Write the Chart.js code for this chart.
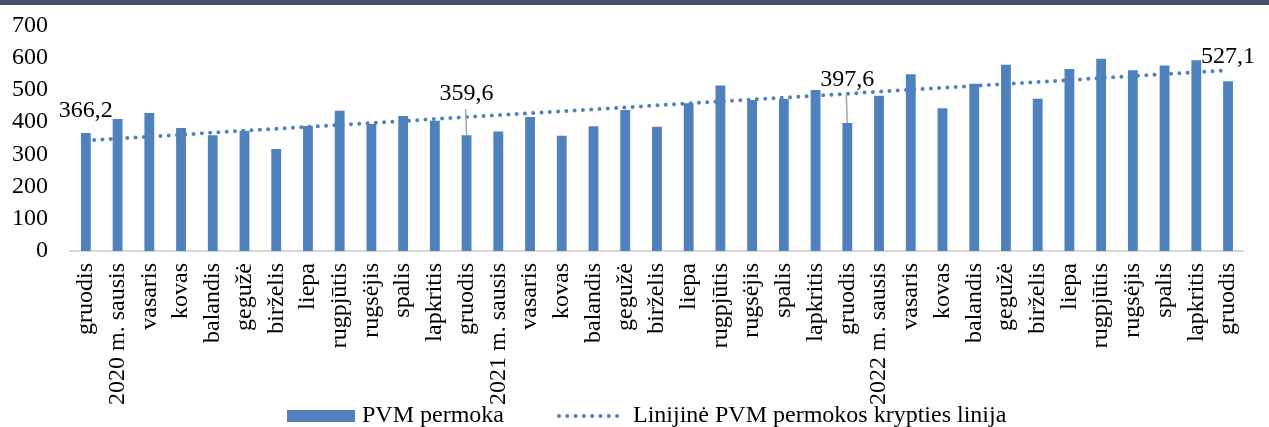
<!DOCTYPE html>
<html>
<head>
<meta charset="utf-8">
<script src="https://cdn.jsdelivr.net/npm/chart.js@4"></script>
<style>
  html, body { margin: 0; padding: 0; background: #fff; }
  #wrap { position: relative; width: 1269px; height: 427px; }
  #topbar { position: absolute; left: 0; top: 0; width: 1269px; height: 5px; background: #445366; }
</style>
</head>
<body>
<div id="wrap">
  <canvas id="chart" width="1269" height="427"></canvas>
  <div id="topbar"></div>
</div>
<script>
const months = [
  "gruodis", "2020 m. sausis", "vasaris", "kovas", "balandis", "gegužė", "birželis",
  "liepa", "rugpjūtis", "rugsėjis", "spalis", "lapkritis",
  "gruodis", "2021 m. sausis", "vasaris", "kovas", "balandis", "gegužė", "birželis",
  "liepa", "rugpjūtis", "rugsėjis", "spalis", "lapkritis",
  "gruodis", "2022 m. sausis", "vasaris", "kovas", "balandis", "gegužė", "birželis",
  "liepa", "rugpjūtis", "rugsėjis", "spalis", "lapkritis", "gruodis"
];

// PVM permoka, mln. Eur
const overpayment = [
  366.2, 410, 428, 382, 359, 373, 317, 388, 435, 394, 419, 404,
  359.6, 371, 416, 358, 387, 438, 386, 459, 514, 469, 472, 500,
  397.6, 482, 549, 443, 519, 578, 473, 565, 597, 561, 576, 592, 527.1
];

// trend line ends
const trendStart = 343;
const trendEnd = 561;

const labelledIdx = [0, 12, 24, 36];
const yTicks = [0, 100, 200, 300, 400, 500, 600, 700];

const legendNames = ["PVM permoka", "Linijinė PVM permokos krypties linija"];

const BLUE = "#4F81BD";
const FONT = "'Liberation Serif', 'Times New Roman', serif";

const trend = months.map((m, i) => i === 0 ? trendStart : (i === months.length - 1 ? trendEnd : null));

// value labels above four bars, some with leader lines
const valueLabels = {
  id: "valueLabels",
  afterDatasetsDraw(chart) {
    const ctx = chart.ctx;
    const meta = chart.getDatasetMeta(0);
    const rise = { 0: 16, 12: 35, 24: 37, 36: 18 };
    ctx.save();
    ctx.font = "24px " + FONT;
    ctx.fillStyle = "#000";
    ctx.textAlign = "center";
    ctx.textBaseline = "alphabetic";
    labelledIdx.forEach(i => {
      const bar = meta.data[i];
      const txt = overpayment[i].toFixed(1).replace(".", ",");
      const base = bar.y - rise[i];
      ctx.fillText(txt, bar.x, base);
      if (rise[i] > 25) {
        ctx.strokeStyle = "#a6a6a6";
        ctx.lineWidth = 1.5;
        ctx.beginPath();
        ctx.moveTo(bar.x - 1, base + 9);
        ctx.lineTo(bar.x, bar.y);
        ctx.stroke();
      }
    });
    ctx.restore();
  }
};

// legend drawn over the bottom of the category labels, like the original
const bottomLegend = {
  id: "bottomLegend",
  afterDraw(chart) {
    const ctx = chart.ctx;
    const y = 416;
    ctx.save();
    ctx.fillStyle = BLUE;
    ctx.fillRect(287, 410, 68, 12);
    ctx.strokeStyle = BLUE;
    ctx.lineWidth = 4;
    ctx.lineCap = "round";
    ctx.setLineDash([0, 8.3]);
    ctx.beginPath();
    ctx.moveTo(559, y);
    ctx.lineTo(625, y);
    ctx.stroke();
    ctx.setLineDash([]);
    ctx.fillStyle = "#000";
    ctx.font = "24px " + FONT;
    ctx.textBaseline = "middle";
    ctx.textAlign = "left";
    ctx.fillText(legendNames[0], 362, y);
    ctx.fillText(legendNames[1], 633, y);
    ctx.restore();
  }
};

new Chart(document.getElementById("chart").getContext("2d"), {
  data: {
    labels: months,
    datasets: [
      {
        type: "bar",
        label: legendNames[0],
        data: overpayment,
        backgroundColor: BLUE,
        barPercentage: 0.31,
        categoryPercentage: 1,
        order: 2
      },
      {
        type: "line",
        label: legendNames[1],
        data: trend,
        spanGaps: true,
        borderColor: BLUE,
        borderWidth: 4,
        borderDash: [0, 8.3],
        borderCapStyle: "round",
        pointRadius: 0,
        fill: false,
        order: 1
      }
    ]
  },
  options: {
    responsive: false,
    animation: false,
    layout: { padding: { top: 25.5, right: 12, left: 0, bottom: 0 } },
    plugins: {
      legend: { display: false },
      tooltip: { enabled: false }
    },
    scales: {
      x: {
        grid: { display: false, drawTicks: false },
        border: { color: "#d9d9d9", width: 2 },
        ticks: {
          color: "#000",
          font: { family: FONT, size: 24 },
          minRotation: 90,
          maxRotation: 90,
          autoSkip: false,
          padding: 12
        },
        afterFit(scale) { scale.height = 176; }
      },
      y: {
        min: 0,
        max: 700,
        grid: { display: false, drawTicks: false },
        border: { display: false },
        afterBuildTicks(scale) { scale.ticks = yTicks.map(v => ({ value: v })); },
        ticks: {
          color: "#000",
          font: { family: FONT, size: 24 },
          autoSkip: false,
          padding: 22
        },
        afterFit(scale) {
          scale.width = 70;
          scale.paddingTop = 0;
          scale.paddingBottom = 0;
        }
      }
    }
  },
  plugins: [valueLabels, bottomLegend]
});
</script>
</body>
</html>
